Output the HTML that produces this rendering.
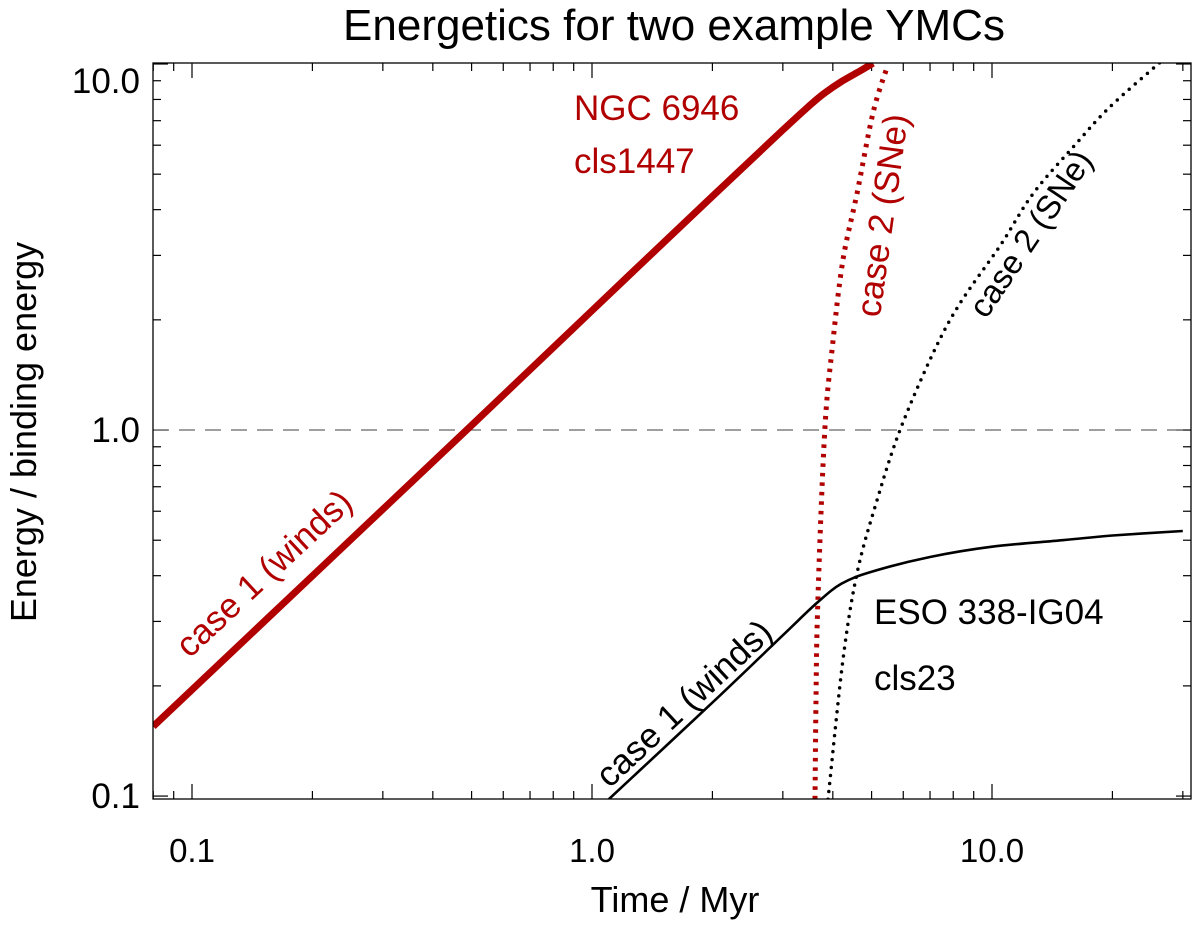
<!DOCTYPE html>
<html><head><meta charset="utf-8"><style>
html,body{margin:0;padding:0;background:#fff;}
svg{display:block;font-family:"Liberation Sans",Arial,sans-serif;}
</style></head><body>
<svg id="chart" width="1200" height="926" viewBox="0 0 1200 926">
<text x="674" y="40" text-anchor="middle" font-size="44" fill="#000">Energetics for two example YMCs</text>
<text x="675" y="912" text-anchor="middle" font-size="36" fill="#000">Time / Myr</text>
<text transform="translate(36,432) rotate(-90)" text-anchor="middle" font-size="36" fill="#000">Energy / binding energy</text>
<g id="ticks"></g>
<g id="marks"></g>
<rect x="153" y="63" width="1038" height="736" fill="none" stroke="#000" stroke-width="1.3"/>
<text x="574" y="120" font-size="35" fill="#b00000">NGC 6946</text>
<text x="574" y="173" font-size="35" fill="#b00000">cls1447</text>
<text x="874" y="624" font-size="35" fill="#000">ESO 338-IG04</text>
<text x="874" y="690" font-size="35" fill="#000">cls23</text>
<text transform="translate(272,582) rotate(-43)" text-anchor="middle" font-size="35" fill="#b00000">case 1 (winds)</text>
<text transform="translate(692,712) rotate(-43)" text-anchor="middle" font-size="35" fill="#000">case 1 (winds)</text>
<text transform="translate(894,217) rotate(-82)" text-anchor="middle" font-size="35" fill="#b00000">case 2 (SNe)</text>
<text transform="translate(1040,240) rotate(-56)" text-anchor="middle" font-size="33" fill="#000">case 2 (SNe)</text>
</svg>
<script>
const xTickValues = [0.1, 1.0, 10.0];
const xTickLabels = ["0.1", "1.0", "10.0"];
const yTickValues = [0.1, 1.0, 10.0];
const yTickLabels = ["0.1", "1.0", "10.0"];
const redWindsT = [0.08, 0.5, 1, 2, 3, 3.5, 3.8, 4.2, 4.7, 5.04];
const redWindsE = [0.155, 1.03, 2.12, 4.35, 6.6, 7.7, 8.3, 8.95, 9.6, 10.05];
const redSNeT = [3.61, 3.63, 3.67, 3.82, 4.00, 4.24, 4.60, 5.04, 5.47];
const redSNeE = [0.098, 0.183, 0.343, 1.0, 1.73, 2.91, 4.44, 7.35, 9.82];
const blackWindsT = [1.09, 2, 3, 3.65, 4.2, 5, 7, 10, 15, 20, 30];
const blackWindsE = [0.097, 0.18, 0.275, 0.337, 0.38, 0.41, 0.45, 0.48, 0.50, 0.515, 0.53];
const blackSNeT = [3.89, 4.24, 4.60, 5.16, 5.89, 7.12, 8.32, 10.5, 12.7, 16.3, 19.7, 26.3];
const blackSNeE = [0.098, 0.235, 0.407, 0.644, 1.0, 1.62, 2.22, 3.2, 4.44, 6.09, 7.63, 10.1];

const X0 = 153, X1 = 1191, Y0 = 63, Y1 = 799;
const lxMin = -1.0975, lxMax = 1.4975, lyMin = -1.008, lyMax = 1.0027;
function sx(t){ return X0 + (Math.log10(t) - lxMin) / (lxMax - lxMin) * (X1 - X0); }
function sy(e){ return Y1 - (Math.log10(e) - lyMin) / (lyMax - lyMin) * (Y1 - Y0); }
const NS = "http://www.w3.org/2000/svg";
const ticks = document.getElementById('ticks');
const marks = document.getElementById('marks');
function line(p, x1, y1, x2, y2, w){
  const l = document.createElementNS(NS, 'line');
  l.setAttribute('x1', x1); l.setAttribute('y1', y1); l.setAttribute('x2', x2); l.setAttribute('y2', y2);
  l.setAttribute('stroke', '#000'); l.setAttribute('stroke-width', w || 1.2);
  
  
  p.appendChild(l);
}
for (let d = -2; d <= 1; d++) {
  for (let m = 1; m <= 9; m++) {
    const v = m * Math.pow(10, d);
    const x = sx(v);
    if (x < X0 || x > X1) continue;
    const len = m === 1 ? 15 : 8;
    line(ticks, x, Y1, x, Y1 - len);
    line(ticks, x, Y0, x, Y0 + len);
  }
}
for (let d = -2; d <= 1; d++) {
  for (let m = 1; m <= 9; m++) {
    const v = m * Math.pow(10, d);
    const y = sy(v);
    if (y < Y0 - 0.5 || y > Y1 + 0.5) continue;
    const len = m === 1 ? 15 : 8;
    line(ticks, X0, y, X0 + len, y);
    line(ticks, X1, y, X1 - len, y);
  }
}
xTickValues.forEach((v, i) => {
  const t = document.createElementNS(NS, 'text');
  t.setAttribute('x', sx(v)); t.setAttribute('y', 862);
  t.setAttribute('text-anchor', 'middle'); t.setAttribute('font-size', '33');
  t.textContent = xTickLabels[i];
  
  
  ticks.appendChild(t);
});
yTickValues.forEach((v, i) => {
  const t = document.createElementNS(NS, 'text');
  t.setAttribute('x', 140); t.setAttribute('y', Math.min(Math.max(sy(v) + 12, 93), 811));
  t.setAttribute('text-anchor', 'end'); t.setAttribute('font-size', '35');
  t.textContent = yTickLabels[i];
  
  
  ticks.appendChild(t);
});
const ref = document.createElementNS(NS, 'line');
ref.setAttribute('x1', X0); ref.setAttribute('x2', X1);
ref.setAttribute('y1', sy(1)); ref.setAttribute('y2', sy(1));
ref.setAttribute('stroke', '#666'); ref.setAttribute('stroke-width', 1.3);
ref.setAttribute('stroke-dasharray', '16 10');


marks.appendChild(ref);

function smoothPath(ts, es){
  const p = ts.map((t, i) => [sx(t), sy(es[i])]);
  let d = 'M' + p[0][0].toFixed(1) + ',' + p[0][1].toFixed(1);
  for (let i = 0; i < p.length - 1; i++) {
    const a = p[Math.max(i - 1, 0)], b = p[i], c = p[i + 1], e = p[Math.min(i + 2, p.length - 1)];
    const c1 = [b[0] + (c[0] - a[0]) / 6, b[1] + (c[1] - a[1]) / 6];
    const c2 = [c[0] - (e[0] - b[0]) / 6, c[1] - (e[1] - b[1]) / 6];
    d += ' C' + c1.map(v => v.toFixed(1)).join(',') + ' ' + c2.map(v => v.toFixed(1)).join(',') + ' ' + c.map(v => v.toFixed(1)).join(',');
  }
  return d;
}
const clip = document.createElementNS(NS, 'clipPath');
clip.setAttribute('id', 'pc');
const cr = document.createElementNS(NS, 'rect');
cr.setAttribute('x', X0); cr.setAttribute('y', Y0); cr.setAttribute('width', X1 - X0); cr.setAttribute('height', Y1 - Y0);
clip.appendChild(cr);
marks.appendChild(clip);
function series(ts, es, color, w, dash, cap, name){
  const pth = document.createElementNS(NS, 'path');
  pth.setAttribute('d', smoothPath(ts, es));
  pth.setAttribute('fill', 'none');
  pth.setAttribute('stroke', color);
  pth.setAttribute('stroke-width', w);
  if (dash) pth.setAttribute('stroke-dasharray', dash);
  pth.setAttribute('stroke-linecap', cap);
  pth.setAttribute('clip-path', 'url(#pc)');
  
  
  marks.appendChild(pth);
}
series(redWindsT, redWindsE, '#b00000', 7, null, 'butt', 'red-case1-winds-line');
series(redSNeT, redSNeE, '#b00000', 5, '3.5 6', 'butt', 'red-case2-sne-line');
series(blackWindsT, blackWindsE, '#000', 2.6, null, 'butt', 'black-case1-winds-line');
series(blackSNeT, blackSNeE, '#000', 3.5, '0 8', 'round', 'black-case2-sne-line');
</script>
</body></html>
